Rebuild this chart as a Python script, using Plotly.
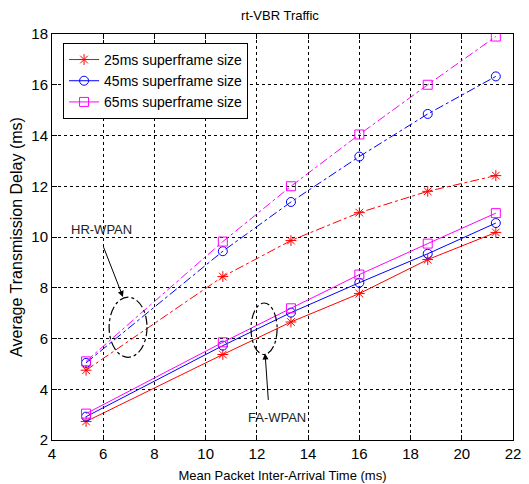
import plotly.graph_objects as go

x_vals = [5.33, 10.67, 13.33, 16.0, 18.67, 21.33]

# HR-WPAN (dash-dot)
hr_25 = [4.75, 8.44, 9.86, 10.96, 11.8, 12.42]
hr_45 = [5.04, 9.44, 11.38, 13.17, 14.85, 16.33]
hr_65 = [5.1, 9.82, 12.0, 14.04, 16.0, 17.9]

# FA-WPAN (solid)
fa_25 = [2.73, 5.37, 6.65, 7.77, 9.11, 10.18]
fa_45 = [2.92, 5.72, 7.02, 8.2, 9.34, 10.55]
fa_65 = [3.04, 5.85, 7.19, 8.52, 9.74, 10.94]

names = ["25ms superframe size", "45ms superframe size", "65ms superframe size"]
colors = ["#ff0000", "#0000ff", "#ff00ff"]
symbols = ["asterisk-open", "circle-open", "square-open"]

FONT = "Arial"

fig = go.Figure()
for name, c, s, y in zip(names, colors, symbols, [fa_25, fa_45, fa_65]):
    fig.add_trace(go.Scatter(x=x_vals, y=y, mode="lines+markers", name=name,
                             line=dict(color=c, width=1),
                             marker=dict(symbol=s, size=9, color=c, line=dict(color=c, width=1))))
for name, c, s, y in zip(names, colors, symbols, [hr_25, hr_45, hr_65]):
    fig.add_trace(go.Scatter(x=x_vals, y=y, mode="lines+markers", name=name, showlegend=False,
                             line=dict(color=c, width=1, dash="dashdot"),
                             marker=dict(symbol=s, size=9, color=c, line=dict(color=c, width=1))))

# ellipses
fig.add_shape(type="circle", xref="x", yref="y", x0=6.23, x1=7.71, y0=5.26, y1=7.63,
              line=dict(color="black", width=1.2, dash="dashdot"))
fig.add_shape(type="circle", xref="x", yref="y", x0=11.77, x1=12.79, y0=5.37, y1=7.4,
              line=dict(color="black", width=1.2, dash="dashdot"))

fig.add_annotation(x=6.77, y=7.64, ax=5.99, ay=9.66, axref="x", ayref="y", xref="x", yref="y",
                   text="", showarrow=True, arrowhead=2, arrowsize=1.2, arrowwidth=1, arrowcolor="black")
fig.add_annotation(x=5.95, y=10.3, text="HR-WPAN", showarrow=False,
                   font=dict(family=FONT, size=13, color="#222"))
fig.add_annotation(x=12.32, y=5.41, ax=12.45, ay=3.52, axref="x", ayref="y", xref="x", yref="y",
                   text="", showarrow=True, arrowhead=2, arrowsize=1.2, arrowwidth=1, arrowcolor="black")
fig.add_annotation(x=12.8, y=2.87, text="FA-WPAN", showarrow=False,
                   font=dict(family=FONT, size=13, color="#222"))

axis_common = dict(showline=True, linecolor="black", linewidth=1, mirror="ticks",
                   ticks="inside", ticklen=5, tickcolor="black",
                   showgrid=True, gridcolor="black", griddash="dot", gridwidth=1,
                   zeroline=False, automargin=False,
                   tickfont=dict(family=FONT, size=15, color="black"))

fig.update_xaxes(range=[4, 22], dtick=2, tick0=4,
                 title=dict(text="Mean Packet Inter-Arrival Time (ms)",
                            font=dict(family=FONT, size=13, color="black"), standoff=9),
                 **axis_common)
fig.update_yaxes(range=[2, 18], dtick=2, tick0=2,
                 title=dict(text="Average Transmission Delay (ms)",
                            font=dict(family=FONT, size=16, color="black"), standoff=4),
                 **axis_common)

# page body has an 8px margin, so the figure is sized to fit the window
fig.update_layout(
    width=521, height=476,
    margin=dict(l=44, r=16, t=26, b=44),
    paper_bgcolor="white", plot_bgcolor="white",
    title=dict(text="rt-VBR Traffic", x=0.522, xanchor="center", y=0.985, yanchor="middle",
               font=dict(family=FONT, size=13, color="black")),
    legend=dict(x=0.024, y=0.978, xanchor="left", yanchor="top", bgcolor="white",
                bordercolor="black", borderwidth=1,
                font=dict(family=FONT, size=14, color="black"),
                tracegroupgap=0, itemwidth=30),
    showlegend=True,
)

fig.write_html("out.html")
